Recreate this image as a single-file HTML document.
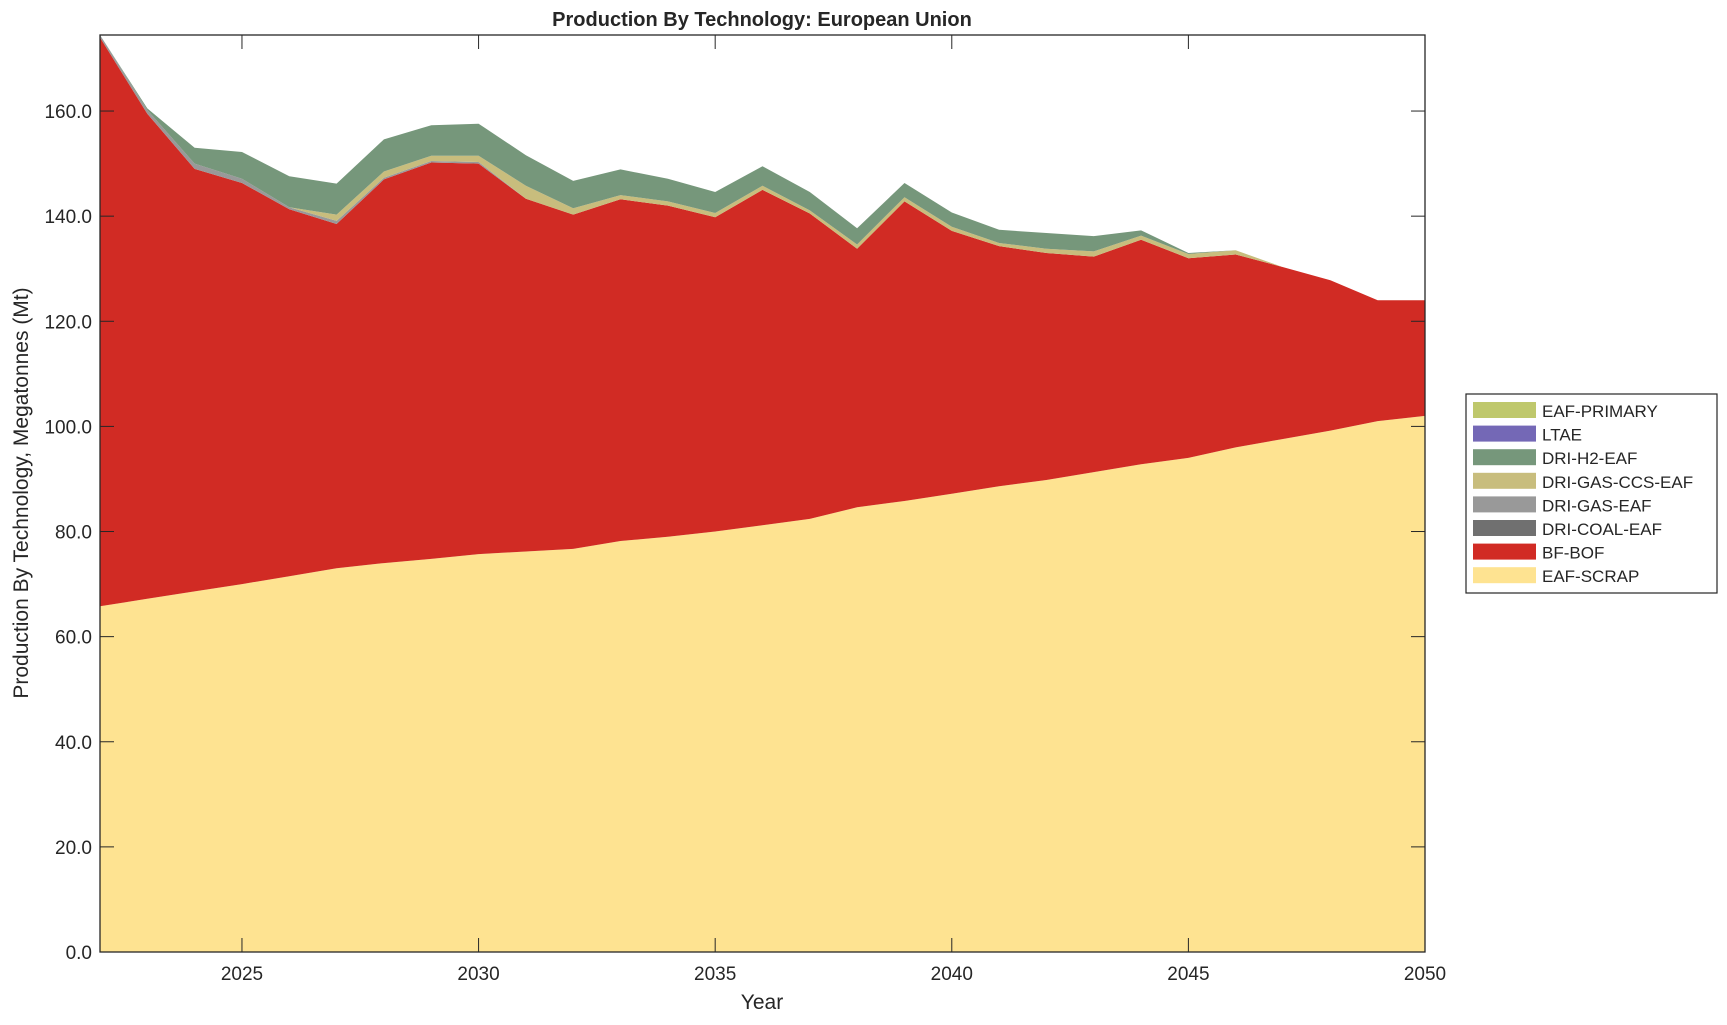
<!DOCTYPE html>
<html><head><meta charset="utf-8"><style>
html,body{margin:0;padding:0;background:#fff;}
svg text{font-family:"Liberation Sans",Arial,sans-serif;fill:#262626;}
</style></head><body>
<svg id="s" width="1727" height="1020" xmlns="http://www.w3.org/2000/svg"></svg>
<script>
const s=document.getElementById('s');
const X0=100,X1=1425,Y0=952,Ytop=35,ymax=(952-35)/5.256;
const px=y=>X0+(y-2022)*(X1-X0)/28, py=v=>Y0-v*5.256;
const scrap=[65.8,67.2,68.6,70,71.5,73,74,74.8,75.7,76.2,76.7,78.2,79,80,81.2,82.4,84.6,85.8,87.2,88.6,89.8,91.3,92.8,94,96,97.6,99.2,101,102];
const bof=[174,159.5,149,146.3,141.3,138.5,147,150.2,150,143.3,140.3,143.2,142,139.8,145,140.5,133.8,142.8,137.2,134.3,133,132.3,135.5,132,132.7,130.3,127.8,124,124];
const gas=[0.8,0.7,1.0,0.8,0.4,0.6,0.3,0.3,0.3,0,0,0,0,0,0,0,0,0,0,0,0,0,0,0,0,0,0,0,0];
const ccs=[0,0,0,0,0,1.2,1.2,1.0,1.2,2.5,1.2,0.8,0.8,0.8,0.8,0.6,0.8,0.8,0.8,0.6,0.8,1.0,0.8,0.8,0.8,0,0,0,0];
const tot=[174.5,160.5,153,152.2,147.6,146.2,154.6,157.3,157.6,151.6,146.7,148.9,147.1,144.6,149.5,144.6,137.7,146.3,140.7,137.4,136.8,136.2,137.3,133,133.4,130.3,127.8,124,124];
const n=29;
const l1=scrap, l2=bof, l3=bof.map((v,i)=>v+gas[i]), l4=l3.map((v,i)=>v+ccs[i]), l5=tot.map((v,i)=>Math.max(v,l4[i]));
let h='';
function area(lo,hi,c){
 let p=[];for(let i=0;i<n;i++)p.push(px(2022+i).toFixed(1)+','+py(Math.min(hi[i],ymax)).toFixed(1));
 for(let i=n-1;i>=0;i--)p.push(px(2022+i).toFixed(1)+','+py(Math.min(lo[i],ymax)).toFixed(1));
 h+=`<polygon points="${p.join(' ')}" fill="${c}"/>`;
}
const zero=new Array(n).fill(0);
area(zero,l1,'#fee391');area(l1,l2,'#d12b24');area(l2,l3,'#999999');area(l3,l4,'#c8bd7d');area(l4,l5,'#76977b');
h+=`<rect x="${X0}" y="${Ytop}" width="${X1-X0}" height="${Y0-Ytop}" fill="none" stroke="#262626" stroke-width="1.3"/>`;
for(let v=0;v<=160;v+=20){const y=py(v);h+=`<line x1="${X0}" x2="${X0+14}" y1="${y}" y2="${y}" stroke="#262626"/><line x1="${X1-14}" x2="${X1}" y1="${y}" y2="${y}" stroke="#262626"/><text x="${X0-8}" y="${y+7}" font-size="19" text-anchor="end">${v.toFixed(1)}</text>`;}
for(let yr=2025;yr<=2050;yr+=5){const x=px(yr);h+=`<line x1="${x}" x2="${x}" y1="${Y0}" y2="${Y0-14}" stroke="#262626"/><line x1="${x}" x2="${x}" y1="${Ytop}" y2="${Ytop+14}" stroke="#262626"/><text x="${x}" y="${Y0+28}" font-size="19" text-anchor="middle">${yr}</text>`;}
h+=`<text x="762" y="26" font-size="20" font-weight="bold" text-anchor="middle" fill="#000">Production By Technology: European Union</text>`;
h+=`<text x="762" y="1009" font-size="21" text-anchor="middle">Year</text>`;
h+=`<text transform="translate(28,493) rotate(-90)" font-size="21" text-anchor="middle">Production By Technology, Megatonnes (Mt)</text>`;
h+=`<rect x="1466" y="394" width="251" height="199" fill="#fff" stroke="#262626" stroke-width="1.2"/>`;
const leg=[['EAF-PRIMARY','#bfc86c'],['LTAE','#7468b6'],['DRI-H2-EAF','#76977b'],['DRI-GAS-CCS-EAF','#c8bd7d'],['DRI-GAS-EAF','#999999'],['DRI-COAL-EAF','#707070'],['BF-BOF','#d12b24'],['EAF-SCRAP','#fee391']];
leg.forEach((e,i)=>{const y=402+i*23.6;h+=`<rect x="1473" y="${y}" width="63" height="16" fill="${e[1]}"/><text x="1542" y="${y+15}" font-size="17" fill="#000">${e[0]}</text>`;});
s.innerHTML=h;
</script>
</body></html>
